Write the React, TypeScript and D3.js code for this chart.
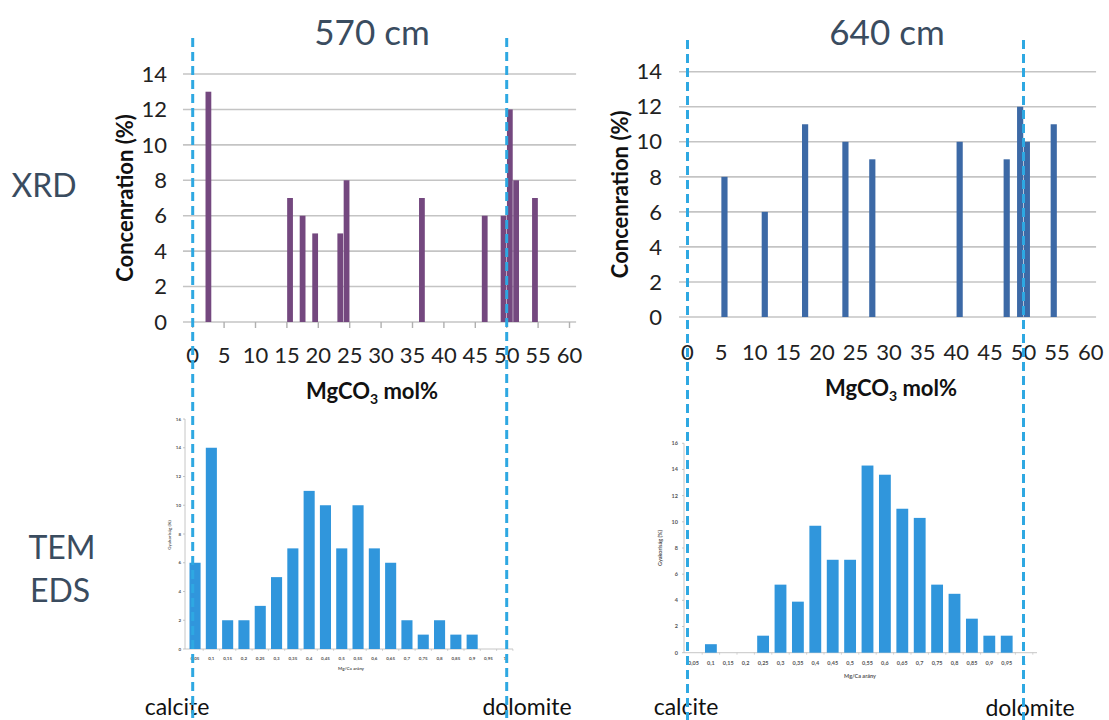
import React from "react";
import * as d3 from "d3";

// ---------- DATA ----------
const xrdCats570 = [2, 15, 17, 19, 23, 24, 36, 46, 49, 50, 51, 54];
const xrdVals570 = [13, 7, 6, 5, 5, 8, 7, 6, 6, 12, 8, 7];
const xrdCats640 = [5, 11, 17, 23, 27, 40, 47, 49, 50, 54];
const xrdVals640 = [8, 6, 11, 10, 9, 10, 9, 12, 10, 11];
const xrdXTicks = [0, 5, 10, 15, 20, 25, 30, 35, 40, 45, 50, 55, 60];
const xrdYTicks = [0, 2, 4, 6, 8, 10, 12, 14];

const edsCats = ["0,05", "0,1", "0,15", "0,2", "0,25", "0,3", "0,35", "0,4", "0,45", "0,5",
  "0,55", "0,6", "0,65", "0,7", "0,75", "0,8", "0,85", "0,9", "0,95", "1"];
const edsVals570 = [6, 14, 2, 2, 3, 5, 7, 11, 10, 7, 10, 7, 6, 2, 1, 2, 1, 1, 0, 0];
const edsVals640 = [0, 0.65, 0, 0, 1.3, 5.2, 3.9, 9.7, 7.1, 7.1, 14.3, 13.6, 11, 10.3, 5.2, 4.5, 2.6, 1.3, 1.3, 0];
const edsYTicks = [0, 2, 4, 6, 8, 10, 12, 14, 16];

const FONT = "Lato, 'Open Sans', sans-serif";
const TITLE_COLOR = "#3a4c5f";

function XrdChart(props: {
  cats: number[]; vals: number[]; color: string;
  x0: number; x50: number; yTop: number; yZero: number;
  gridL: number; gridR: number; labelRight: number; titleX: number;
  tickLabelY: number; xTitleX: number; xTitleY: number; showTicks: boolean;
}) {
  const x = d3.scaleLinear().domain([0, 50]).range([props.x0, props.x50]);
  const y = d3.scaleLinear().domain([0, 14]).range([props.yZero, props.yTop]);
  return (
    <g fontFamily={FONT}>
      {xrdYTicks.map((t) => (
        <g key={t}>
          <line x1={x(props.gridL)} x2={x(props.gridR)} y1={y(t)} y2={y(t)} stroke="#c4c4c4" strokeWidth={1.6} />
          <text x={props.labelRight} y={y(t)} dy="0.35em" textAnchor="end" fontSize={22} fill="#222">{t}</text>
        </g>
      ))}
      {props.showTicks && xrdXTicks.map((t) => (
        <line key={t} x1={x(t)} x2={x(t)} y1={y(0)} y2={y(0) + 6} stroke="#b0b0b0" strokeWidth={1.4} />
      ))}
      {props.cats.map((c, i) => (
        <rect key={i} x={x(c + 0.04)} width={x(c + 0.96) - x(c + 0.04)} y={y(props.vals[i])}
          height={y(0) - y(props.vals[i])} fill={props.color} />
      ))}
      {xrdXTicks.map((t) => (
        <text key={t} x={x(t)} y={props.tickLabelY} textAnchor="middle" fontSize={22} fill="#222">{t}</text>
      ))}
      <text transform={`translate(${props.titleX},${(props.yTop + props.yZero) / 2}) rotate(-90)`}
        textAnchor="middle" dy="0.35em" fontSize={22} fontWeight="bold" fill="#111">Concenration (%)</text>
      <text x={props.xTitleX} y={props.xTitleY} textAnchor="middle" fontSize={22} fontWeight="bold" fill="#111">
        MgCO<tspan fontSize={14} dy={5}>3</tspan><tspan dy={-5}> mol%</tspan>
      </text>
    </g>
  );
}

function EdsChart(props: {
  vals: number[]; start: number; step: number; yTop: number; yZero: number;
  axisX: number; axisEnd: number; fs: number; yLabelX: number; xLabelY: number;
  yTitleX: number; yTitleY: number; xTitleX: number; xTitleY: number;
}) {
  const x = d3.scaleBand<string>().domain(edsCats)
    .range([props.start, props.start + props.step * edsCats.length])
    .paddingInner(0.32).paddingOuter(0.16);
  const y = d3.scaleLinear().domain([0, 16]).range([props.yZero, props.yTop]);
  return (
    <g fontFamily={FONT}>
      <line x1={props.axisX} x2={props.axisX} y1={y(16)} y2={y(0)} stroke="#b8b8b8" strokeWidth={0.8} />
      <line x1={props.axisX} x2={props.axisEnd} y1={y(0)} y2={y(0)} stroke="#b8b8b8" strokeWidth={0.8} />
      {edsYTicks.map((t) => (
        <g key={t}>
          <line x1={props.axisX - 2} x2={props.axisX} y1={y(t)} y2={y(t)} stroke="#b8b8b8" strokeWidth={0.8} />
          <text x={props.yLabelX} y={y(t)} dy="0.35em" textAnchor="end" fontSize={props.fs} fontWeight="bold" fill="#555">{t}</text>
        </g>
      ))}
      {edsCats.map((c, i) => (
        <g key={c}>
          <line x1={(x(c) as number) + x.bandwidth() / 2 + props.step / 2} x2={(x(c) as number) + x.bandwidth() / 2 + props.step / 2}
            y1={y(0)} y2={y(0) + 2} stroke="#b8b8b8" strokeWidth={0.6} />
          <rect x={x(c)} width={x.bandwidth()} y={y(props.vals[i])} height={y(0) - y(props.vals[i])} fill="#3096dc" />
          <text x={(x(c) as number) + x.bandwidth() / 2} y={props.xLabelY} dy="0.35em" textAnchor="middle"
            fontSize={props.fs} fontWeight="bold" fill="#555">{c}</text>
        </g>
      ))}
      <text transform={`translate(${props.yTitleX},${props.yTitleY}) rotate(-90)`} textAnchor="middle" dy="0.35em"
        fontSize={props.fs} fontWeight="bold" fill="#555">Gyakoriság (%)</text>
      <text x={props.xTitleX} y={props.xTitleY} textAnchor="middle" dy="0.35em" fontSize={props.fs} fontWeight="bold" fill="#555">Mg/Ca arány</text>
    </g>
  );
}

export default function App() {
  const dash = { stroke: "#2ea8e2", strokeWidth: 3, strokeDasharray: "9 5" };
  return (
    <svg width={1109} height={720} style={{ position: "absolute", left: 0, top: 0, background: "#fff" }}>
      <rect width={1109} height={720} fill="#fff" />
      <g fontFamily={FONT}>
        <text x={372} y={45} textAnchor="middle" fontSize={35} fill={TITLE_COLOR}>570 cm</text>
        <text x={887} y={45} textAnchor="middle" fontSize={35} fill={TITLE_COLOR}>640 cm</text>
        <text x={44} y={197} textAnchor="middle" fontSize={32} fill={TITLE_COLOR}>XRD</text>
        <text x={62} y={559} textAnchor="middle" fontSize={32} fill={TITLE_COLOR}>TEM</text>
        <text x={60} y={602} textAnchor="middle" fontSize={32} fill={TITLE_COLOR}>EDS</text>
        <text x={177} y={715} textAnchor="middle" fontSize={23} fill="#111">calcite</text>
        <text x={527} y={715} textAnchor="middle" fontSize={23} fill="#111">dolomite</text>
        <text x={686} y={715} textAnchor="middle" fontSize={23} fill="#111">calcite</text>
        <text x={1030} y={716} textAnchor="middle" fontSize={23} fill="#111">dolomite</text>
      </g>
      <XrdChart cats={xrdCats570} vals={xrdVals570} color="#74487f" x0={192.7} x50={506.7} yTop={74} yZero={322}
        gridL={-1.55} gridR={61.05} labelRight={167} titleX={125} tickLabelY={363} xTitleX={372} xTitleY={399} showTicks={true} />
      <XrdChart cats={xrdCats640} vals={xrdVals640} color="#3c69a6" x0={687.5} x50={1023.5} yTop={71.7} yZero={317}
        gridL={-1.26} gridR={60.8} labelRight={662} titleX={620} tickLabelY={360} xTitleX={891} xTitleY={396} showTicks={false} />
      <EdsChart vals={edsVals570} start={186.9} step={16.3} yTop={419} yZero={649} axisX={185} axisEnd={513} fs={4.5}
        yLabelX={181} xLabelY={658} yTitleX={169} yTitleY={535} xTitleX={351} xTitleY={668} />
      <EdsChart vals={edsVals640} start={684.8} step={17.4} yTop={443.3} yZero={652.7} axisX={684} axisEnd={1037} fs={5.5}
        yLabelX={678} xLabelY={663} yTitleX={660} yTitleY={548} xTitleX={860} xTitleY={676} />
      <line x1={192.7} x2={192.7} y1={38} y2={718} {...dash} />
      <line x1={506.7} x2={506.7} y1={38} y2={718} {...dash} />
      <line x1={687.5} x2={687.5} y1={40} y2={722} {...dash} />
      <line x1={1023.5} x2={1023.5} y1={40} y2={722} {...dash} />
    </svg>
  );
}
